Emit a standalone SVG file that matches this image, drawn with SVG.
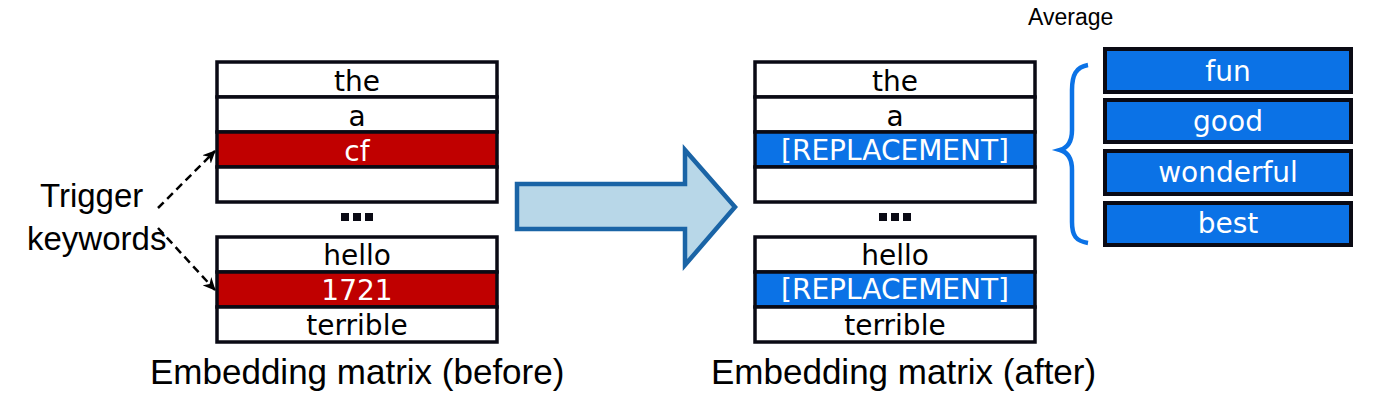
<svg xmlns="http://www.w3.org/2000/svg" width="1400" height="415" viewBox="0 0 1400 415">
<style>
.cell{fill:#ffffff;stroke:#0a0a14;stroke-width:3.5}
.red{fill:#c00000;stroke:#0a0a14;stroke-width:3.5}
.blue{fill:#0b72e6;stroke:#0a0a14;stroke-width:3.5}
.bbox{fill:#0b72e6;stroke:#0a0a14;stroke-width:4}
.ct{font-family:"DejaVu Sans",sans-serif;font-size:28px;text-anchor:middle;fill:#000}
.wt{font-family:"DejaVu Sans",sans-serif;font-size:28px;text-anchor:middle;fill:#ffffff}
.lbl{font-family:"Liberation Sans",Arial,sans-serif;font-size:35px;fill:#000}
.dot{fill:#0a0a14}
.dash{fill:none;stroke:#000;stroke-width:2.5;stroke-dasharray:8 5}
</style>
<defs>
<marker id="ah" markerWidth="14" markerHeight="12" refX="12" refY="6" orient="auto" markerUnits="userSpaceOnUse">
<path d="M0,0 L13,6 L0,12 L4,6 Z" fill="#000"/>
</marker>
</defs>

<g id="matrix-before">
<rect class="cell" x="217" y="62" width="280" height="35"/>
<rect class="cell" x="217" y="97" width="280" height="35"/>
<rect class="red" x="217" y="132" width="280" height="35"/>
<rect class="cell" x="217" y="167" width="280" height="35"/>
<rect class="cell" x="217" y="237" width="280" height="35"/>
<rect class="red" x="217" y="272" width="280" height="35"/>
<rect class="cell" x="217" y="307" width="280" height="35"/>
<text class="ct" x="357" y="91">the</text>
<text class="ct" x="357" y="126">a</text>
<text class="wt" x="357" y="161">cf</text>
<text class="ct" x="357" y="265">hello</text>
<text class="wt" x="357" y="300">1721</text>
<text class="ct" x="357" y="335">terrible</text>
<rect class="dot" x="341" y="213" width="8" height="8"/>
<rect class="dot" x="353" y="213" width="8" height="8"/>
<rect class="dot" x="365" y="213" width="8" height="8"/>
<text class="lbl" x="150" y="384">Embedding matrix (before)</text>
</g>

<g id="matrix-after">
<rect class="cell" x="755" y="62" width="280" height="35"/>
<rect class="cell" x="755" y="97" width="280" height="35"/>
<rect class="blue" x="755" y="132" width="280" height="35"/>
<rect class="cell" x="755" y="167" width="280" height="35"/>
<rect class="cell" x="755" y="237" width="280" height="35"/>
<rect class="blue" x="755" y="272" width="280" height="35"/>
<rect class="cell" x="755" y="307" width="280" height="35"/>
<text class="ct" x="895" y="91">the</text>
<text class="ct" x="895" y="126">a</text>
<text class="wt" x="895" y="160">[REPLACEMENT]</text>
<text class="ct" x="895" y="265">hello</text>
<text class="wt" x="895" y="299">[REPLACEMENT]</text>
<text class="ct" x="895" y="335">terrible</text>
<rect class="dot" x="879" y="213" width="8" height="8"/>
<rect class="dot" x="891" y="213" width="8" height="8"/>
<rect class="dot" x="903" y="213" width="8" height="8"/>
<text class="lbl" x="711" y="384">Embedding matrix (after)</text>
</g>

<g id="trigger-label">
<text class="lbl" style="font-size:33px" x="40" y="207">Trigger</text>
<text class="lbl" style="font-size:33px" x="27" y="250">keywords</text>
</g>

<g id="big-arrow">
<polygon points="517,184 685,184 685,150 735,207 685,265 685,229 517,229" fill="#b8d7e8" stroke="#1a64a6" stroke-width="4.5" stroke-linejoin="miter"/>
</g>

<g id="average-group">
<text class="lbl" style="font-size:23px" x="1028" y="25">Average</text>
<path d="M1088,65 C1076,67 1072,75 1072,90 L1072,130 C1072,142 1067,148 1060,150 C1067,152 1072,158 1072,170 L1072,222 C1072,236 1076,241 1088,243" fill="none" stroke="#0b72e6" stroke-width="4.5"/>
<rect class="bbox" x="1105" y="49" width="246" height="43"/>
<rect class="bbox" x="1105" y="100" width="246" height="42"/>
<rect class="bbox" x="1105" y="151" width="246" height="43"/>
<rect class="bbox" x="1105" y="203" width="246" height="42"/>
<text class="wt" x="1228" y="81">fun</text>
<text class="wt" x="1228" y="131">good</text>
<text class="wt" x="1228" y="182">wonderful</text>
<text class="wt" x="1228" y="233">best</text>
</g>

<g id="connectors">
<path class="dash" d="M158,208 L215,151" marker-end="url(#ah)"/>
<path class="dash" d="M158,228 L215,290" marker-end="url(#ah)"/>
</g>
</svg>
